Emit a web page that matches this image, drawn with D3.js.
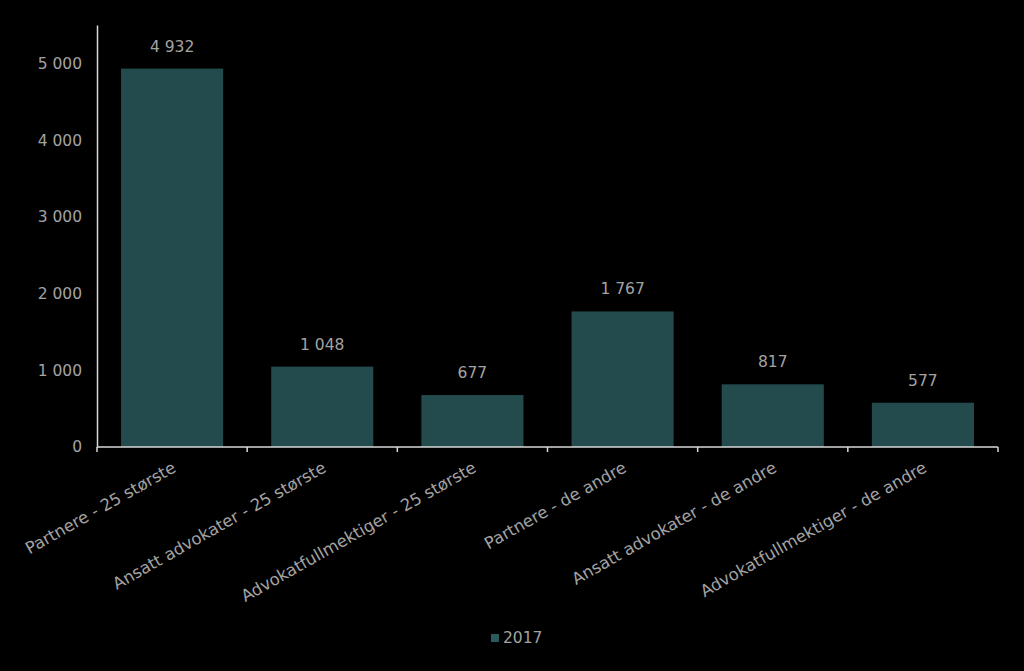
<!DOCTYPE html>
<html>
<head>
<meta charset="utf-8">
<script src="https://cdn.jsdelivr.net/npm/d3@7"></script>
<style>
  body { margin: 0; background: #000; }
  text { font-family: "DejaVu Sans", Verdana, sans-serif; fill: #a3a3a3; }
</style>
</head>
<body>
<div id="chart"></div>
<script>
const categories = [
  "Partnere - 25 største",
  "Ansatt advokater - 25 største",
  "Advokatfullmektiger - 25 største",
  "Partnere - de andre",
  "Ansatt advokater - de andre",
  "Advokatfullmektiger - de andre"
];
const values2017 = [4932, 1048, 677, 1767, 817, 577];
const yTicks = [0, 1000, 2000, 3000, 4000, 5000];
const seriesName = "2017";

const width = 1024, height = 671;
const margin = { top: 25, right: 26, bottom: 224, left: 97 };

const fmt = d3.formatLocale({ decimal: ",", thousands: " ", grouping: [3], currency: ["", ""] }).format(",d");

const svg = d3.select("#chart").append("svg")
  .attr("width", width)
  .attr("height", height);

const x = d3.scaleBand()
  .domain(categories)
  .range([margin.left, width - margin.right])
  .paddingInner(0.32)
  .paddingOuter(0.16);

const y = d3.scaleLinear()
  .domain([0, 5500])
  .range([height - margin.bottom, margin.top]);

// bars
svg.append("g")
  .selectAll("rect")
  .data(values2017)
  .join("rect")
  .attr("x", (d, i) => x(categories[i]))
  .attr("y", d => y(d))
  .attr("width", x.bandwidth())
  .attr("height", d => y(0) - y(d))
  .attr("fill", "#234a4c");

// value labels
svg.append("g")
  .selectAll("text")
  .data(values2017)
  .join("text")
  .attr("x", (d, i) => x(categories[i]) + x.bandwidth() / 2)
  .attr("y", d => y(d) - 17)
  .attr("text-anchor", "middle")
  .style("font-size", "15.5px")
  .text(d => fmt(d));

// y axis
const yAxis = svg.append("g")
  .attr("transform", `translate(${margin.left},0)`)
  .call(d3.axisLeft(y).tickValues(yTicks).tickSize(0).tickPadding(15).tickFormat(fmt));
yAxis.select(".domain").attr("stroke", "#d9d9d9").attr("stroke-width", 1.5);
yAxis.selectAll("text").style("font-size", "15.5px").attr("fill", "#a3a3a3");

// x axis: boundary ticks between categories
const bounds = d3.range(categories.length + 1).map(i => margin.left + i * (width - margin.left - margin.right) / categories.length);
const xg = svg.append("g");
xg.append("line")
  .attr("x1", margin.left).attr("x2", width - margin.right)
  .attr("y1", y(0)).attr("y2", y(0))
  .attr("stroke", "#d9d9d9").attr("stroke-width", 1.5);
xg.selectAll(".tk")
  .data(bounds)
  .join("line")
  .attr("x1", d => d).attr("x2", d => d)
  .attr("y1", y(0)).attr("y2", y(0) + 5)
  .attr("stroke", "#d9d9d9").attr("stroke-width", 1.5);

xg.selectAll(".lbl")
  .data(categories)
  .join("text")
  .attr("text-anchor", "end")
  .style("font-size", "16.5px")
  .attr("transform", d => `translate(${x(d) + x.bandwidth() / 2 + 5},${y(0) + 24}) rotate(-29.5)`)
  .text(d => d);

// legend
const lg = svg.append("g").attr("transform", "translate(491,638)");
lg.append("rect").attr("x", 0).attr("y", -4).attr("width", 8).attr("height", 8).attr("fill", "#2b5a5c");
lg.append("text").attr("x", 12).attr("y", 0).attr("dy", "0.35em").style("font-size", "15.5px").text(seriesName);
</script>
</body>
</html>
